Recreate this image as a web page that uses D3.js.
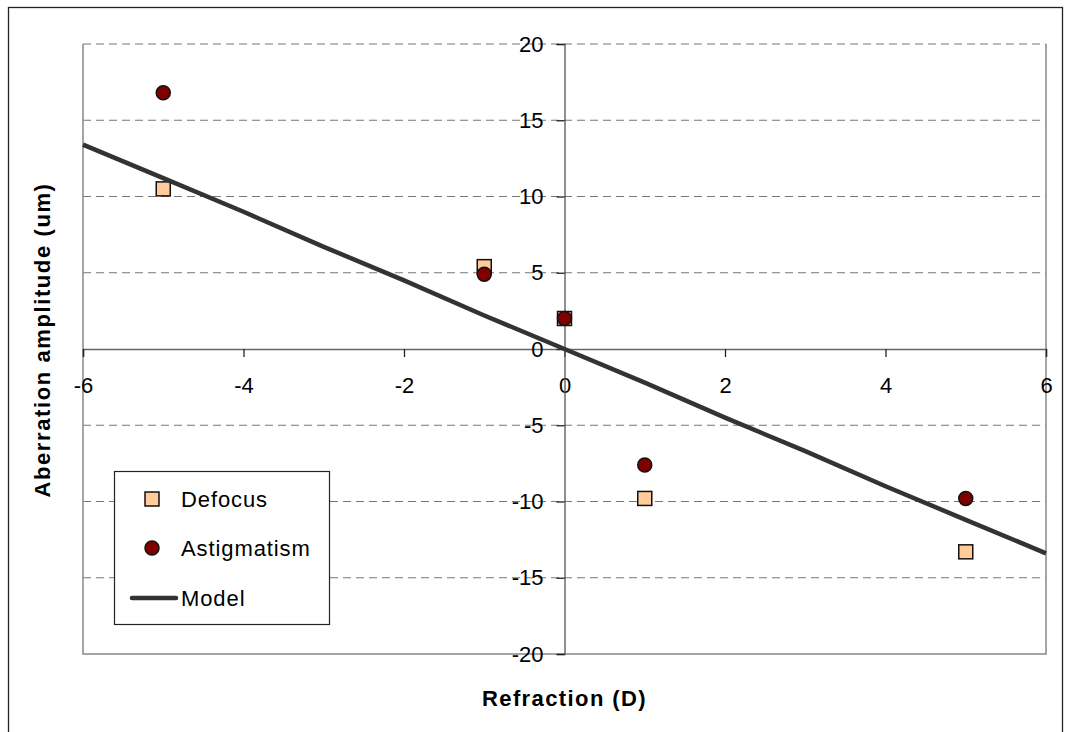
<!DOCTYPE html>
<html>
<head>
<meta charset="utf-8">
<script src="https://cdn.jsdelivr.net/npm/d3@7/dist/d3.min.js"></script>
<style>
  html, body { margin: 0; padding: 0; background: #fff; }
  svg { display: block; font-family: "Liberation Sans", Arial, sans-serif; }
</style>
</head>
<body>
<svg id="chart" width="1071" height="732"></svg>
<script>
// Measured refraction (D) and aberration amplitudes (um)
const refraction = [-5, -1, 0, 1, 5];
const defocus = [10.5, 5.4, 2.0, -9.8, -13.3];
const astigmatism = [16.8, 4.9, 2.0, -7.6, -9.8];

// Model curve samples
const modelX = [-6, -5, -4, -3, -2, -1, 0, 1, 2, 3, 4, 5, 6];
const modelY = [13.4, 11.2, 9.0, 6.7, 4.5, 2.2, 0, -2.2, -4.5, -6.7, -9.0, -11.2, -13.4];

// Axis ticks
const xTicks = [-6, -4, -2, 0, 2, 4, 6];
const yTicks = [-20, -15, -10, -5, 0, 5, 10, 15, 20];

const svg = d3.select("#chart");

const plot = { left: 83, right: 1046, top: 44, bottom: 654 };
const x = d3.scaleLinear().domain([-6, 6]).range([plot.left, plot.right]);
const y = d3.scaleLinear().domain([-20, 20]).range([plot.bottom, plot.top]);

// Outer chart frame
svg.append("rect")
  .attr("x", 8.5).attr("y", 7.5)
  .attr("width", 1054).attr("height", 740)
  .attr("fill", "#fff").attr("stroke", "#222").attr("stroke-width", 1.3);

// Horizontal dashed gridlines
svg.append("g").selectAll("line")
  .data(yTicks.filter(d => d !== 0 && d !== -20))
  .join("line")
  .attr("x1", plot.left).attr("x2", plot.right)
  .attr("y1", d => y(d)).attr("y2", d => y(d))
  .attr("stroke", "#777").attr("stroke-width", 1.2)
  .attr("stroke-dasharray", "8,5");

// Plot area sides
svg.append("path")
  .attr("d", `M${plot.left},${plot.top}V${plot.bottom}H${plot.right}V${plot.top}`)
  .attr("fill", "none").attr("stroke", "#888").attr("stroke-width", 1.5);

// Axes crossing at the origin
const xAxis = d3.axisBottom(x).tickValues(xTicks).tickSize(8).tickPadding(20)
  .tickFormat(d3.format("d"));
const gx = svg.append("g").attr("transform", `translate(0,${y(0)})`).call(xAxis);
gx.select(".domain").attr("stroke", "#666").attr("stroke-width", 1.5);
gx.selectAll(".tick line").attr("stroke", "#222").attr("stroke-width", 1.3);
gx.selectAll(".tick text")
  .attr("font-size", 22).attr("fill", "#000")
  .attr("font-family", "Liberation Sans, Arial, sans-serif")
  .text(d => d < 0 ? "-" + Math.abs(d) : String(d));

const yAxis = d3.axisLeft(y).tickValues(yTicks).tickSize(8).tickPadding(13)
  .tickFormat(d3.format("d"));
const gy = svg.append("g").attr("transform", `translate(${x(0)},0)`).call(yAxis);
gy.select(".domain").attr("stroke", "#555").attr("stroke-width", 1.3);
gy.selectAll(".tick line").attr("stroke", "#222").attr("stroke-width", 1.3);
gy.selectAll(".tick text")
  .attr("font-size", 22).attr("fill", "#000")
  .attr("font-family", "Liberation Sans, Arial, sans-serif")
  .text(d => d < 0 ? "-" + Math.abs(d) : String(d));

// Data markers
const pts = refraction.map((r, i) => ({ r, d: defocus[i], a: astigmatism[i] }));
const sq = 14;
svg.append("g").selectAll("rect")
  .data(pts).join("rect")
  .attr("x", p => x(p.r) - sq / 2).attr("y", p => y(p.d) - sq / 2)
  .attr("width", sq).attr("height", sq)
  .attr("fill", "#FFCC99").attr("stroke", "#111").attr("stroke-width", 1.5);

svg.append("g").selectAll("circle")
  .data(pts).join("circle")
  .attr("cx", p => x(p.r)).attr("cy", p => y(p.a)).attr("r", 7)
  .attr("fill", "#800000").attr("stroke", "#111").attr("stroke-width", 1.5);

// Model line
const model = modelX.map((v, i) => [v, modelY[i]]);
svg.append("path")
  .datum(model)
  .attr("d", d3.line().x(d => x(d[0])).y(d => y(d[1])))
  .attr("fill", "none").attr("stroke", "#333").attr("stroke-width", 4.5)
  .attr("stroke-linejoin", "round");

// Axis titles
svg.append("text")
  .attr("x", x(0)).attr("y", 706)
  .attr("text-anchor", "middle")
  .attr("font-size", 22).attr("font-weight", "bold")
  .attr("letter-spacing", 1.4)
  .text("Refraction (D)");

svg.append("text")
  .attr("transform", `translate(50,340) rotate(-90)`)
  .attr("text-anchor", "middle")
  .attr("font-size", 22).attr("font-weight", "bold")
  .attr("letter-spacing", 1.6)
  .text("Aberration amplitude (um)");

// Legend
const legend = svg.append("g");
legend.append("rect")
  .attr("x", 114.5).attr("y", 471.5).attr("width", 215).attr("height", 153)
  .attr("fill", "#fff").attr("stroke", "#222").attr("stroke-width", 1.2);

const legendItems = ["Defocus", "Astigmatism", "Model"];
const legendY = [499, 548, 598];

legend.append("rect")
  .attr("x", 152 - 7).attr("y", legendY[0] - 7).attr("width", 14).attr("height", 14)
  .attr("fill", "#FFCC99").attr("stroke", "#111").attr("stroke-width", 1.5);
legend.append("circle")
  .attr("cx", 152).attr("cy", legendY[1]).attr("r", 7)
  .attr("fill", "#800000").attr("stroke", "#111").attr("stroke-width", 1.5);
legend.append("line")
  .attr("x1", 132).attr("x2", 176).attr("y1", legendY[2]).attr("y2", legendY[2])
  .attr("stroke", "#333").attr("stroke-width", 4.5).attr("stroke-linecap", "round");

legend.selectAll("text.item")
  .data(legendItems).join("text")
  .attr("class", "item")
  .attr("x", 181).attr("y", (d, i) => legendY[i] + 8)
  .attr("font-size", 22).attr("letter-spacing", 0.9)
  .text(d => d);
</script>
</body>
</html>
